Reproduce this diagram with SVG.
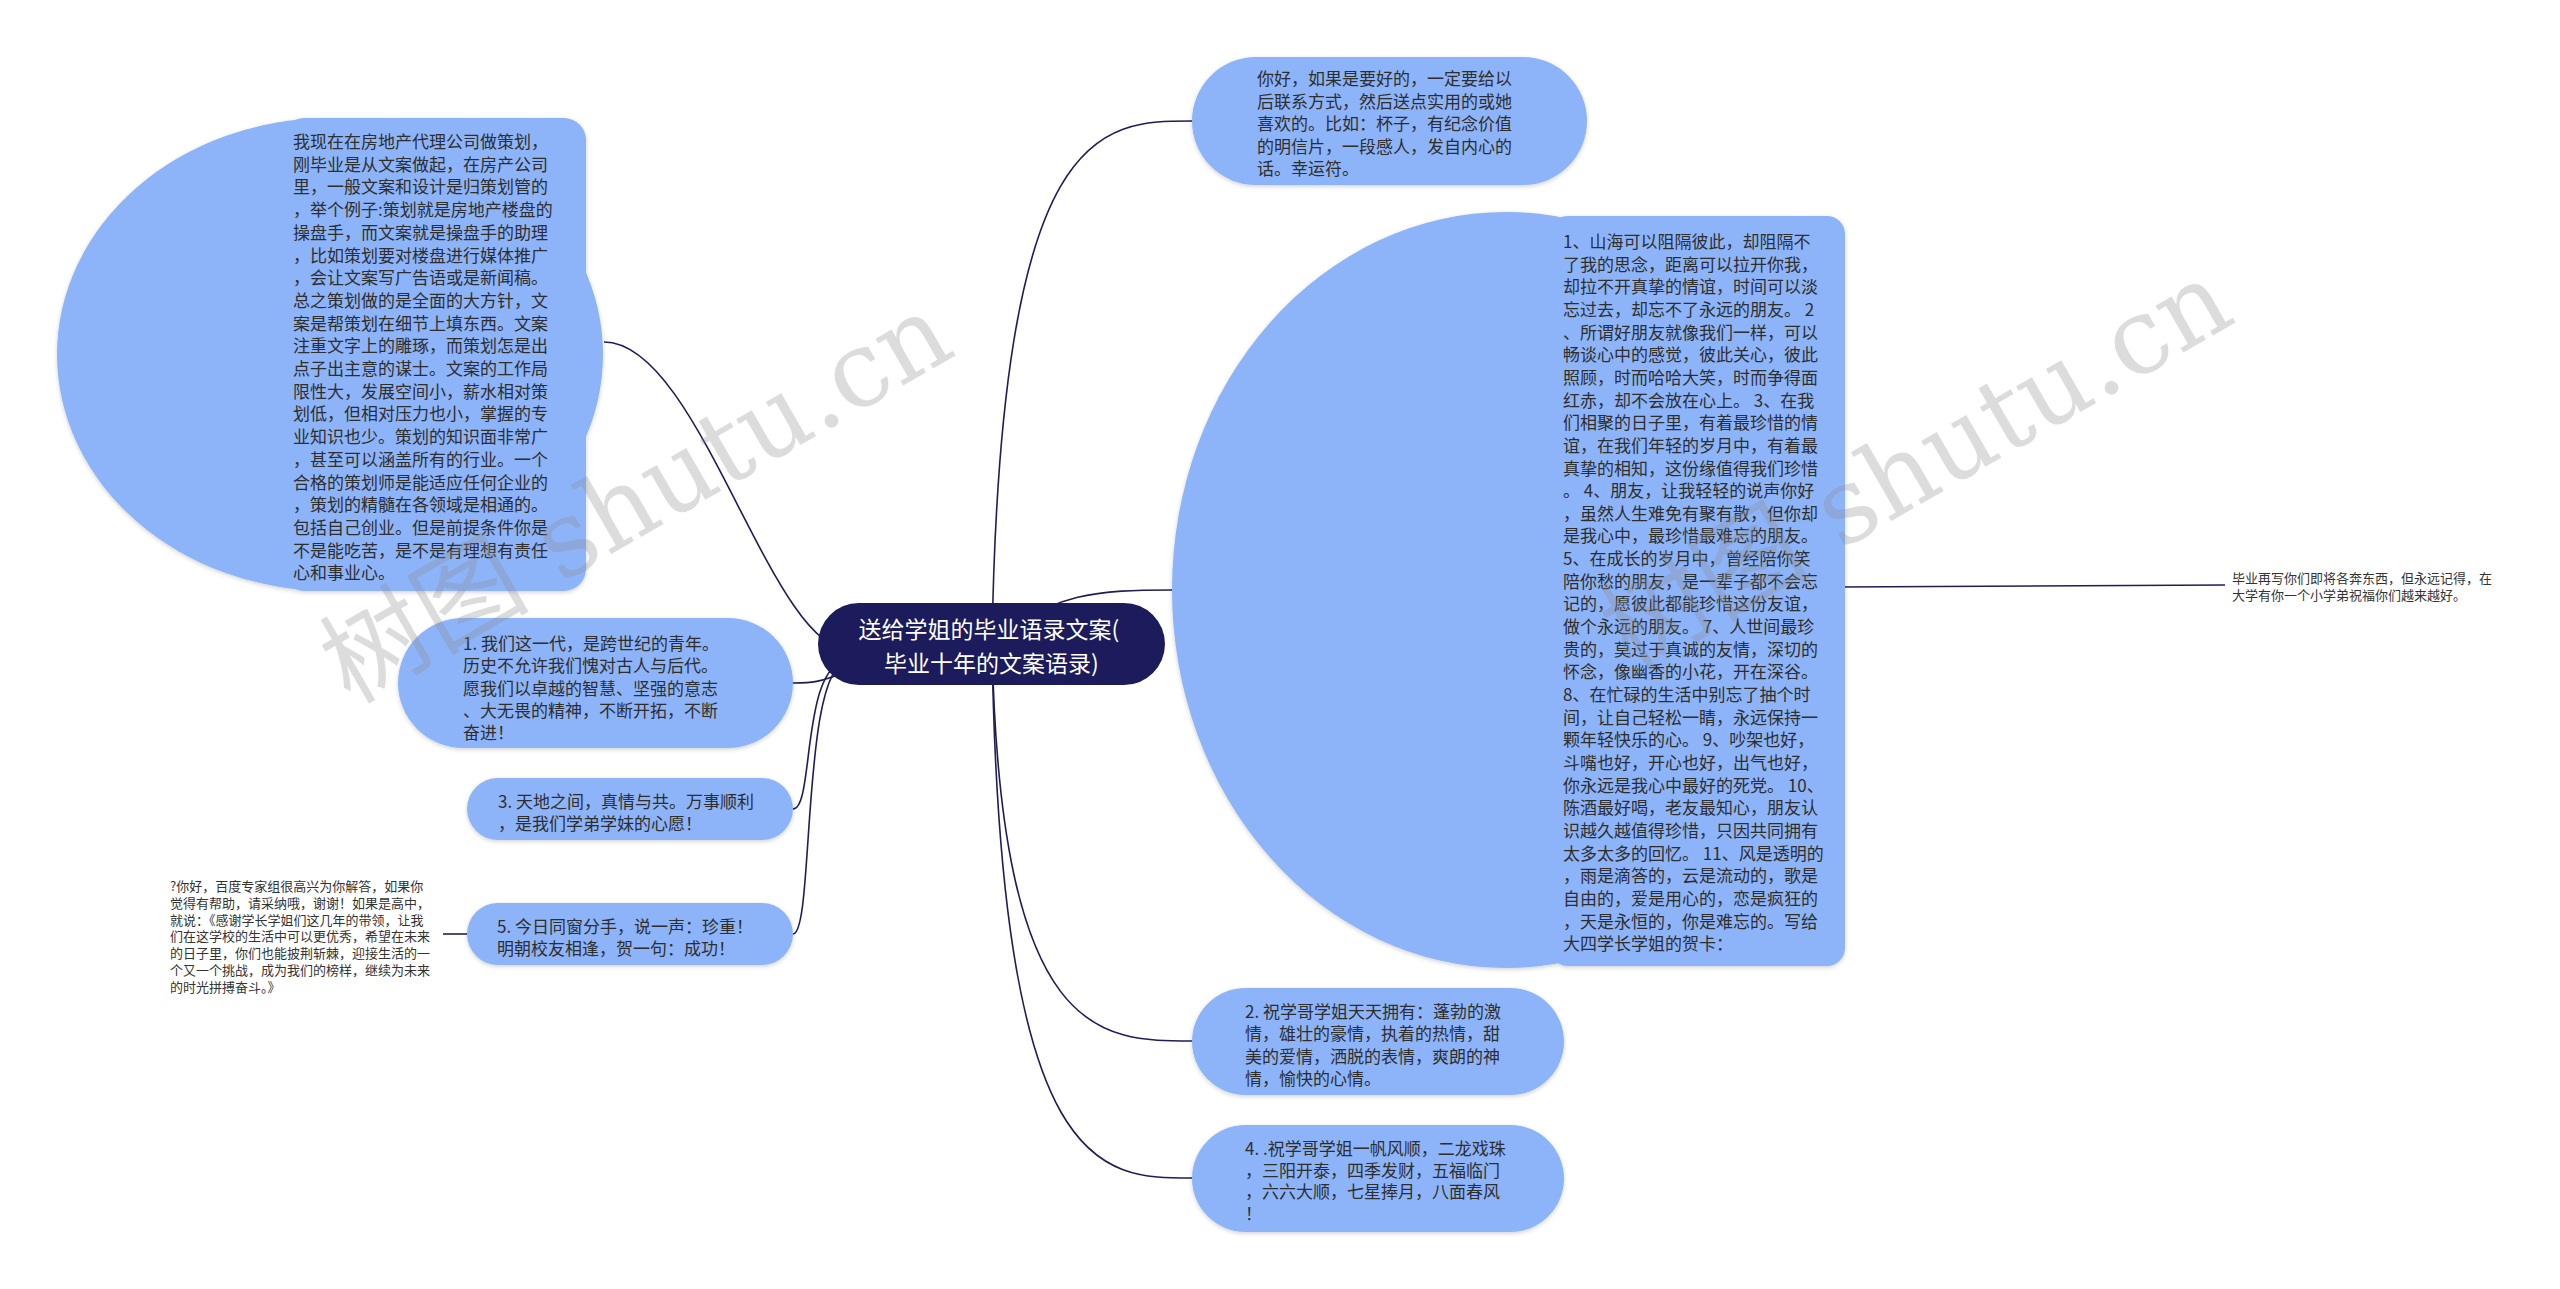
<svg xmlns="http://www.w3.org/2000/svg" width="2560" height="1289" viewBox="0 0 2560 1289">
<style>
.bg{fill:#ffffff}
.node{fill:#8db4f9;filter:url(#sh)}
.nodeg{filter:url(#sh)}
.nodeg ellipse,.nodeg rect{fill:#8db4f9}
.root{fill:#1c1b5b}
.t{font-family:"Noto Sans CJK SC","Noto Sans",sans-serif;font-size:17px;fill:#2e2e2e;dominant-baseline:central}
.s{font-family:"Noto Sans CJK SC","Noto Sans",sans-serif;font-size:13px;fill:#333333;dominant-baseline:central}
.rt{font-family:"Noto Sans CJK SC","Noto Sans",sans-serif;font-size:23px;fill:#ffffff;dominant-baseline:central;text-anchor:middle}
.ln{fill:none;stroke:#1f1d57;stroke-width:1.6}
.wm{font-family:"DejaVu Serif","Noto Sans CJK SC",serif;font-size:105px;fill:#8a8a8a;fill-opacity:0.3}
</style>
<defs>
<filter id="sh" x="-10%" y="-10%" width="120%" height="120%">
<feDropShadow dx="0" dy="1.5" stdDeviation="2" flood-color="#000" flood-opacity="0.18"/>
</filter>
</defs>
<rect class="bg" x="0" y="0" width="2560" height="1289"/>
<g id="connectors">
<path class="ln" d="M992 644 C1000 121 1100 121 1192 121"/>
<path class="ln" d="M992 644 C1050 592 1100 590 1172 590"/>
<path class="ln" d="M992 644 C1000 1041 1100 1041 1192 1041"/>
<path class="ln" d="M992 644 C1000 1178 1100 1178 1192 1178"/>
<path class="ln" d="M850 650 C770 650 700 342 604 342"/>
<path class="ln" d="M850 670 C820 683 810 683 793 683"/>
<path class="ln" d="M850 660 C800 660 815 809 793 809"/>
<path class="ln" d="M850 660 C800 660 815 934 793 934"/>
<path class="ln" d="M467 934 L443 934"/>
<path class="ln" d="M1840 587 L2225 585"/>
</g>
<g id="n-left-big">
<g class="nodeg">
<ellipse cx="330" cy="354.5" rx="273" ry="236.5"/>
<rect x="282" y="118" width="304" height="473" rx="22"/>
</g>
<text class="t">
<tspan x="293" y="140">我现在在房地产代理公司做策划，</tspan>
<tspan x="293" y="162.7">刚毕业是从文案做起，在房产公司</tspan>
<tspan x="293" y="185.4">里，一般文案和设计是归策划管的</tspan>
<tspan x="293" y="208.1">，举个例子:策划就是房地产楼盘的</tspan>
<tspan x="293" y="230.8">操盘手，而文案就是操盘手的助理</tspan>
<tspan x="293" y="253.5">，比如策划要对楼盘进行媒体推广</tspan>
<tspan x="293" y="276.2">，会让文案写广告语或是新闻稿。</tspan>
<tspan x="293" y="298.9">总之策划做的是全面的大方针，文</tspan>
<tspan x="293" y="321.6">案是帮策划在细节上填东西。文案</tspan>
<tspan x="293" y="344.3">注重文字上的雕琢，而策划怎是出</tspan>
<tspan x="293" y="367">点子出主意的谋士。文案的工作局</tspan>
<tspan x="293" y="389.7">限性大，发展空间小，薪水相对策</tspan>
<tspan x="293" y="412.4">划低，但相对压力也小，掌握的专</tspan>
<tspan x="293" y="435.1">业知识也少。策划的知识面非常广</tspan>
<tspan x="293" y="457.8">，甚至可以涵盖所有的行业。一个</tspan>
<tspan x="293" y="480.5">合格的策划师是能适应任何企业的</tspan>
<tspan x="293" y="503.2">，策划的精髓在各领域是相通的。</tspan>
<tspan x="293" y="525.9">包括自己创业。但是前提条件你是</tspan>
<tspan x="293" y="548.6">不是能吃苦，是不是有理想有责任</tspan>
<tspan x="293" y="571.3">心和事业心。</tspan>
</text>
</g>
<g id="n1">
<rect class="node" x="398" y="618" width="395" height="130" rx="65"/>
<text class="t">
<tspan x="463" y="642">1. 我们这一代，是跨世纪的青年。</tspan>
<tspan x="463" y="664.3">历史不允许我们愧对古人与后代。</tspan>
<tspan x="463" y="686.6">愿我们以卓越的智慧、坚强的意志</tspan>
<tspan x="463" y="708.9">、大无畏的精神，不断开拓，不断</tspan>
<tspan x="463" y="731.2">奋进！</tspan>
</text>
</g>
<g id="n3">
<rect class="node" x="467" y="778" width="326" height="62" rx="31"/>
<text class="t">
<tspan x="498" y="800">3. 天地之间，真情与共。万事顺利</tspan>
<tspan x="498" y="822">，是我们学弟学妹的心愿！</tspan>
</text>
</g>
<g id="n5">
<rect class="node" x="467" y="903" width="326" height="62" rx="31"/>
<text class="t">
<tspan x="497" y="925">5. 今日同窗分手，说一声：珍重！</tspan>
<tspan x="497" y="947">明朝校友相逢，贺一句：成功！</tspan>
</text>
</g>
<g id="n5-note">
<text class="s">
<tspan x="170" y="885">?你好，百度专家组很高兴为你解答，如果你</tspan>
<tspan x="170" y="901.8">觉得有帮助，请采纳哦，谢谢！如果是高中，</tspan>
<tspan x="170" y="918.6">就说：《感谢学长学姐们这几年的带领，让我</tspan>
<tspan x="170" y="935.4">们在这学校的生活中可以更优秀，希望在未来</tspan>
<tspan x="170" y="952.2">的日子里，你们也能披荆斩棘，迎接生活的一</tspan>
<tspan x="170" y="969">个又一个挑战，成为我们的榜样，继续为未来</tspan>
<tspan x="170" y="985.8">的时光拼搏奋斗。》</tspan>
</text>
</g>
<g id="n-top">
<rect class="node" x="1192" y="57" width="395" height="128" rx="64"/>
<text class="t">
<tspan x="1257" y="77">你好，如果是要好的，一定要给以</tspan>
<tspan x="1257" y="99.5">后联系方式，然后送点实用的或她</tspan>
<tspan x="1257" y="122">喜欢的。比如：杯子，有纪念价值</tspan>
<tspan x="1257" y="144.5">的明信片，一段感人，发自内心的</tspan>
<tspan x="1257" y="167">话。幸运符。</tspan>
</text>
</g>
<g id="n-right-big">
<g class="nodeg">
<ellipse cx="1506" cy="590" rx="334" ry="378"/>
<rect x="1550" y="216" width="295" height="750" rx="18"/>
</g>
<text class="t">
<tspan x="1563" y="240">1、山海可以阻隔彼此，却阻隔不</tspan>
<tspan x="1563" y="262.65">了我的思念，距离可以拉开你我，</tspan>
<tspan x="1563" y="285.3">却拉不开真挚的情谊，时间可以淡</tspan>
<tspan x="1563" y="307.95">忘过去，却忘不了永远的朋友。 2</tspan>
<tspan x="1563" y="330.6">、所谓好朋友就像我们一样，可以</tspan>
<tspan x="1563" y="353.25">畅谈心中的感觉，彼此关心，彼此</tspan>
<tspan x="1563" y="375.9">照顾，时而哈哈大笑，时而争得面</tspan>
<tspan x="1563" y="398.55">红赤，却不会放在心上。 3、在我</tspan>
<tspan x="1563" y="421.2">们相聚的日子里，有着最珍惜的情</tspan>
<tspan x="1563" y="443.85">谊，在我们年轻的岁月中，有着最</tspan>
<tspan x="1563" y="466.5">真挚的相知，这份缘值得我们珍惜</tspan>
<tspan x="1563" y="489.15">。 4、朋友，让我轻轻的说声你好</tspan>
<tspan x="1563" y="511.8">，虽然人生难免有聚有散，但你却</tspan>
<tspan x="1563" y="534.45">是我心中，最珍惜最难忘的朋友。</tspan>
<tspan x="1563" y="557.1">5、在成长的岁月中，曾经陪你笑</tspan>
<tspan x="1563" y="579.75">陪你愁的朋友，是一辈子都不会忘</tspan>
<tspan x="1563" y="602.4">记的，愿彼此都能珍惜这份友谊，</tspan>
<tspan x="1563" y="625.05">做个永远的朋友。 7、人世间最珍</tspan>
<tspan x="1563" y="647.7">贵的，莫过于真诚的友情，深切的</tspan>
<tspan x="1563" y="670.35">怀念，像幽香的小花，开在深谷。</tspan>
<tspan x="1563" y="693">8、在忙碌的生活中别忘了抽个时</tspan>
<tspan x="1563" y="715.65">间，让自己轻松一睛，永远保持一</tspan>
<tspan x="1563" y="738.3">颗年轻快乐的心。 9、吵架也好，</tspan>
<tspan x="1563" y="760.95">斗嘴也好，开心也好，出气也好，</tspan>
<tspan x="1563" y="783.6">你永远是我心中最好的死党。 10、</tspan>
<tspan x="1563" y="806.25">陈酒最好喝，老友最知心，朋友认</tspan>
<tspan x="1563" y="828.9">识越久越值得珍惜，只因共同拥有</tspan>
<tspan x="1563" y="851.55">太多太多的回忆。 11、风是透明的</tspan>
<tspan x="1563" y="874.2">，雨是滴答的，云是流动的，歌是</tspan>
<tspan x="1563" y="896.85">自由的，爱是用心的，恋是疯狂的</tspan>
<tspan x="1563" y="919.5">，天是永恒的，你是难忘的。写给</tspan>
<tspan x="1563" y="942.15">大四学长学姐的贺卡：</tspan>
</text>
</g>
<g id="n-right-note">
<text class="s">
<tspan x="2232" y="577">毕业再写你们即将各奔东西，但永远记得，在</tspan>
<tspan x="2232" y="594">大学有你一个小学弟祝福你们越来越好。</tspan>
</text>
</g>
<g id="n2">
<rect class="node" x="1192" y="988" width="372" height="107" rx="53.5"/>
<text class="t">
<tspan x="1245" y="1010">2. 祝学哥学姐天天拥有：蓬勃的激</tspan>
<tspan x="1245" y="1032.3">情，雄壮的豪情，执着的热情，甜</tspan>
<tspan x="1245" y="1054.6">美的爱情，洒脱的表情，爽朗的神</tspan>
<tspan x="1245" y="1076.9">情，愉快的心情。</tspan>
</text>
</g>
<g id="n4">
<rect class="node" x="1192" y="1125" width="372" height="107" rx="53.5"/>
<text class="t">
<tspan x="1245" y="1147">4. .祝学哥学姐一帆风顺，二龙戏珠</tspan>
<tspan x="1245" y="1168.7">，三阳开泰，四季发财，五福临门</tspan>
<tspan x="1245" y="1190.4">，六六大顺，七星捧月，八面春风</tspan>
<tspan x="1245" y="1212.1">！</tspan>
</text>
</g>
<g id="root">
<rect class="root" x="818" y="603" width="347" height="82" rx="41"/>
<text class="rt">
<tspan x="991.5" y="628">送给学姐的毕业语录文案(</tspan>
<tspan x="991.5" y="662">毕业十年的文案语录)</tspan>
</text>
</g>
<g id="watermark">
<text class="wm" transform="translate(350 705) rotate(-30)">树图 shutu.cn</text>
<text class="wm" transform="translate(1630 672) rotate(-30)">树图 shutu.cn</text>
</g>
</svg>
